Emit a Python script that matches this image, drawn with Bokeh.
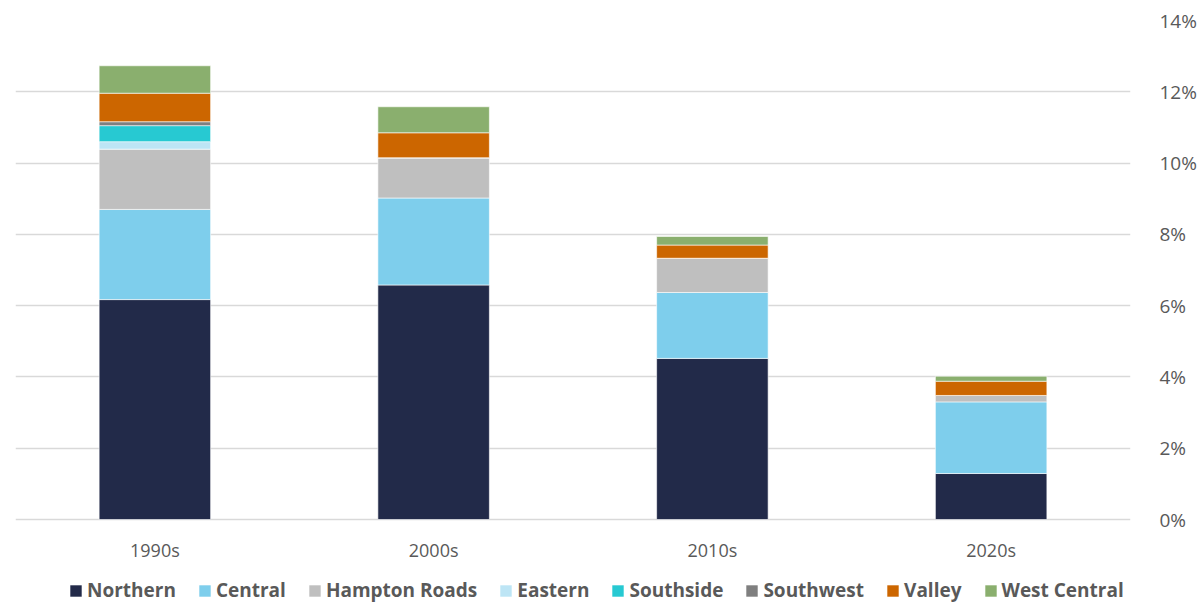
from bokeh.plotting import figure
from bokeh.models import Legend, LegendItem, PrintfTickFormatter, FixedTicker, Range1d
from bokeh.embed import file_html
from bokeh.resources import INLINE

decades = ["1990s", "2000s", "2010s", "2020s"]
regions = ["Northern", "Central", "Hampton Roads", "Eastern", "Southside", "Southwest", "Valley", "West Central"]
northern = [6.17, 6.58, 4.52, 1.29]
central = [2.53, 2.44, 1.85, 2.01]
hampton_roads = [1.69, 1.13, 0.96, 0.18]
eastern = [0.21, 0.0, 0.0, 0.0]
southside = [0.45, 0.0, 0.0, 0.0]
southwest = [0.11, 0.0, 0.0, 0.0]
valley = [0.80, 0.70, 0.37, 0.40]
west_central = [0.77, 0.73, 0.24, 0.14]
colors = ["#222A49", "#7ECEEC", "#BFBFBF", "#BDE5F5", "#27C9D2", "#7F7F7F", "#CC6600", "#8AAF6E"]
y_ticks = [0, 2, 4, 6, 8, 10, 12, 14]

data = {"decade": decades, "Northern": northern, "Central": central, "Hampton Roads": hampton_roads,
        "Eastern": eastern, "Southside": southside, "Southwest": southwest, "Valley": valley,
        "West Central": west_central}

FONT = "Open Sans"
TXT = "#595959"

W, H = 1199, 606
TOP, LEFT, RIGHT = 20, 15, 61
# frame spans from TOP to the bottom of the figure; 0% sits 87px above the bottom
px_per_unit = (H - 87 - TOP) / 14.0
y_min = -87 / px_per_unit

p = figure(x_range=decades, y_range=Range1d(y_min, 14), width=W, height=H,
           output_backend="svg", toolbar_location=None, y_axis_location="right",
           min_border_left=LEFT, min_border_top=TOP, min_border_right=RIGHT, min_border_bottom=0)
p.outline_line_color = None

rs = p.vbar_stack(regions, x="decade", width=0.4, color=colors, source=data,
                  line_color="white", line_width=0.6)

p.xgrid.grid_line_color = None
p.ygrid.grid_line_color = "#D9D9D9"
p.ygrid.grid_line_width = 1.3
p.ygrid.ticker = FixedTicker(ticks=y_ticks)

ya = p.yaxis[0]
ya.ticker = FixedTicker(ticks=y_ticks)
ya.formatter = PrintfTickFormatter(format="%d%%")
ya.axis_line_color = None
ya.major_tick_line_color = None
ya.minor_tick_line_color = None
ya.major_label_standoff = 23
ya.major_label_text_font = FONT
ya.major_label_text_font_size = "19px"
ya.major_label_text_color = TXT

xa = p.xaxis[0]
xa.fixed_location = 0
xa.axis_line_color = None
xa.major_tick_line_color = None
xa.minor_tick_line_color = None
xa.major_label_standoff = 12
xa.major_label_text_font = FONT
xa.major_label_text_font_size = "18px"
xa.major_label_text_color = TXT

p.x_range.range_padding = 0.0

items = [LegendItem(label=name, renderers=[r]) for name, r in zip(regions, rs)]
legend = Legend(items=items, orientation="horizontal", location=(53, 3),
                label_text_font=FONT, label_text_font_size="19px", label_text_font_style="bold",
                label_text_color=TXT, glyph_width=15, glyph_height=15, spacing=21,
                label_standoff=4, padding=0, margin=0, border_line_color=None,
                background_fill_alpha=0)
p.add_layout(legend, "center")

open("out.html", "w").write(file_html(p, INLINE))
